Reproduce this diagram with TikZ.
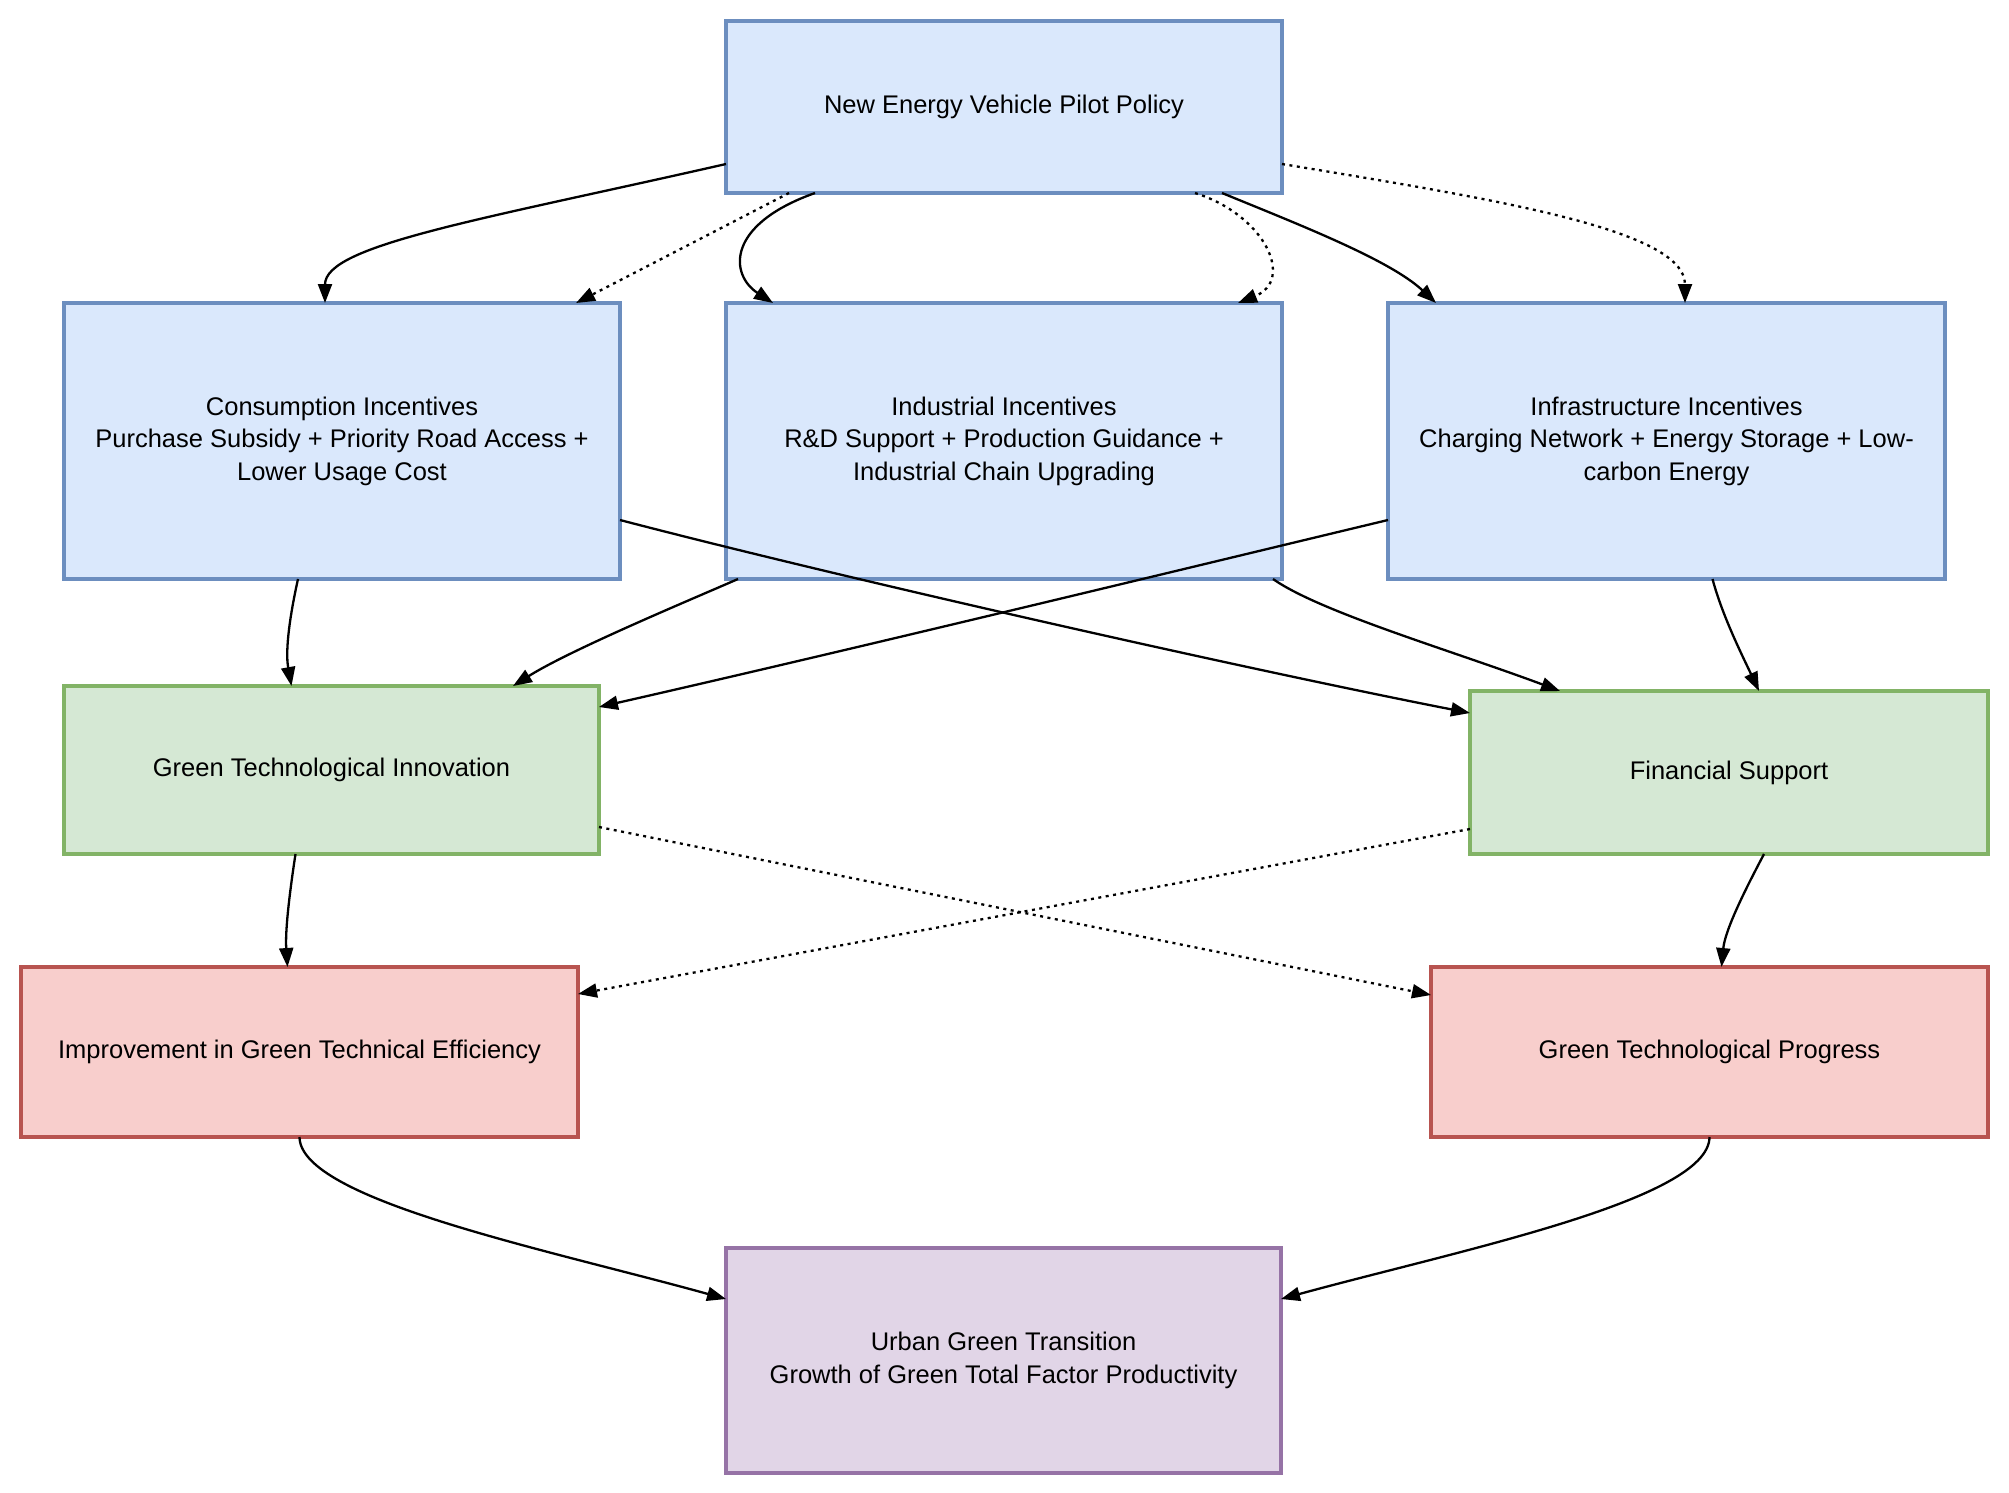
\documentclass[tikz,border=0pt]{standalone}
\usepackage{fontspec}
\setmainfont{Liberation Sans}
\usetikzlibrary{arrows.meta,calc}
\definecolor{blueF}{HTML}{DAE8FC}\definecolor{blueD}{HTML}{6C8EBF}
\definecolor{greenF}{HTML}{D5E8D4}\definecolor{greenD}{HTML}{82B366}
\definecolor{redF}{HTML}{F8CECC}\definecolor{redD}{HTML}{B85450}
\definecolor{purpF}{HTML}{E1D5E7}\definecolor{purpD}{HTML}{9673A6}
\begin{document}
\begin{tikzpicture}[x=1pt,y=-1pt,
  box/.style={rectangle, draw, line width=3.5pt, inner sep=0pt, outer sep=0pt,
    align=center, text=black, font=\fontsize{25.5}{32.5}\selectfont},
  bluebox/.style={box, fill=blueF, draw=blueD},
  greenbox/.style={box, fill=greenF, draw=greenD},
  redbox/.style={box, fill=redF, draw=redD},
  purpbox/.style={box, fill=purpF, draw=purpD},
  conn/.style={line width=2.3pt, black, -{Triangle[length=19pt,width=14pt]}},
  dotconn/.style={conn, dash pattern=on 3pt off 4.5pt},
]
\fill[white] (0,0) rectangle (2009,1492);
\useasboundingbox (0,0) rectangle (2009,1492);

\node[bluebox, minimum width=556pt, minimum height=172pt] (top) at (1004,107) {New Energy Vehicle Pilot Policy};
\node[bluebox, minimum width=556pt, minimum height=276pt] (cons) at (342,441) {Consumption Incentives\\Purchase Subsidy + Priority Road Access +\\Lower Usage Cost};
\node[bluebox, minimum width=556pt, minimum height=276pt] (ind) at (1004,441) {Industrial Incentives\\R\&D Support + Production Guidance +\\Industrial Chain Upgrading};
\node[bluebox, minimum width=557pt, minimum height=276pt] (inf) at (1666.5,441) {Infrastructure Incentives\\Charging Network + Energy Storage + Low-\\carbon Energy};
\node[greenbox, minimum width=535pt, minimum height=168pt] (gti) at (331.5,770) {Green Technological Innovation};
\node[greenbox, minimum width=518pt, minimum height=163pt] (fin) at (1729,772.5) {Financial Support};
\node[redbox, minimum width=557pt, minimum height=170pt] (imp) at (299.5,1052) {Improvement in Green Technical Efficiency};
\node[redbox, minimum width=557pt, minimum height=170pt] (gtp) at (1709.5,1052) {Green Technological Progress};
\node[purpbox, minimum width=555pt, minimum height=225pt] (urb) at (1003.5,1360.5) {Urban Green Transition\\Growth of Green Total Factor Productivity};

% from policy
\draw[conn] ([yshift=29pt]top.south west) .. controls (480,220) and (325,245) .. ([xshift=-17pt]cons.north);
\draw[dotconn] ([xshift=63pt]top.south west) -- ([xshift=234pt]cons.north);
\draw[conn] ([xshift=89pt]top.south west) .. controls (725,225) and (730,275) .. ([xshift=47pt]ind.north west);
\draw[dotconn] ([xshift=-87pt]top.south east) .. controls (1265,215) and (1295,280) .. ([xshift=-44pt]ind.north east);
\draw[conn] ([xshift=-60pt]top.south east) .. controls (1300,225) and (1390,260) .. ([xshift=48pt]inf.north west);
\draw[dotconn] ([yshift=29pt]top.south east) .. controls (1500,200) and (1685,230) .. ([xshift=297pt]inf.north west);

% incentives to mechanisms
\draw[conn] ([xshift=-44pt]cons.south) .. controls (290,615) and (285,650) .. ([xshift=-40pt]gti.north);
\draw[conn] ([yshift=59pt]cons.south east) .. controls (850,580) and (1250,670) .. ([yshift=-22pt]fin.north west);
\draw[conn] ([xshift=12pt]ind.south west) .. controls (690,600) and (570,650) .. ([xshift=-86pt]gti.north east);
\draw[conn] ([xshift=-9pt]ind.south east) .. controls (1320,612) and (1450,650) .. ([xshift=90pt]fin.north west);
\draw[conn] ([yshift=59pt]inf.south west) .. controls (1200,565) and (850,650) .. ([yshift=-21pt]gti.north east);
\draw[conn] ([xshift=46pt]inf.south) .. controls (1722,615) and (1742,655) .. ([xshift=30pt]fin.north);

% mechanisms to effects
\draw[conn] ([xshift=-36pt]gti.south) .. controls (290,890) and (285,930) .. ([xshift=-12pt]imp.north);
\draw[dotconn] ([yshift=27pt]gti.south east) -- ([yshift=-28pt]gtp.north west);
\draw[dotconn] ([yshift=25pt]fin.south west) -- ([yshift=-27pt]imp.north east);
\draw[conn] ([xshift=35pt]fin.south) .. controls (1745,890) and (1725,930) .. ([xshift=12pt]gtp.north);

% effects to transition
\draw[conn] (imp.south) .. controls (300,1200) and (550,1250) .. ([yshift=-51pt]urb.north west);
\draw[conn] (gtp.south) .. controls (1709,1200) and (1460,1250) .. ([yshift=-51pt]urb.north east);
\end{tikzpicture}
\end{document}
